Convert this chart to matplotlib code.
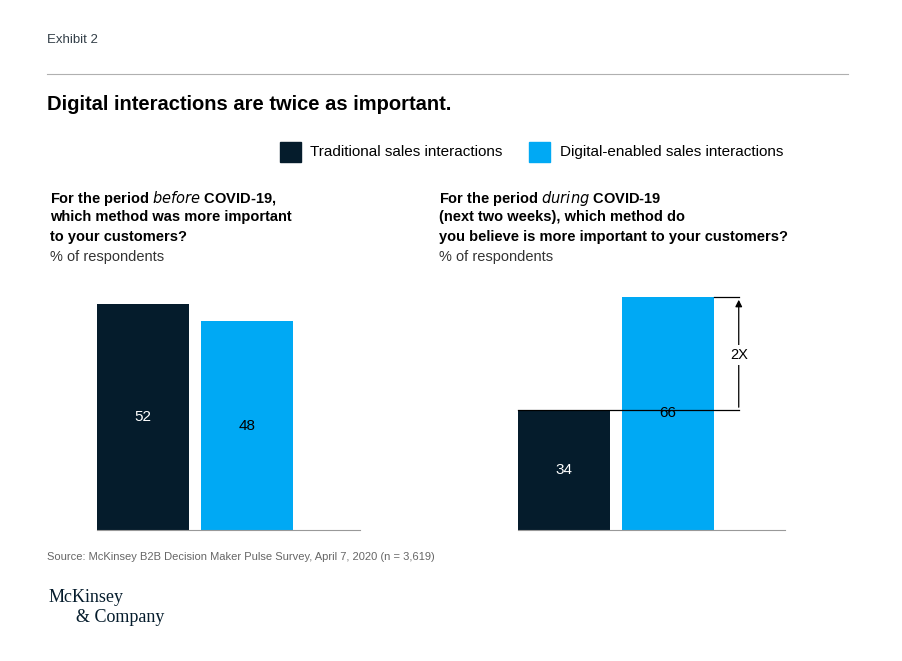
import matplotlib.pyplot as plt
from matplotlib.patches import Rectangle

plt.rcParams['font.family'] = ['Liberation Sans', 'DejaVu Sans']

methods = ['Traditional sales interactions', 'Digital-enabled sales interactions']
before_vals = [52, 48]
during_vals = [34, 66]
colors = ['#051c2c', '#00a9f4']

W, H = 903, 661
fig = plt.figure(figsize=(W / 100, H / 100), dpi=100)

def fx(x):
    return x / W

def fy(y):
    return 1 - y / H

def txt(x, y, s, **kw):
    fig.text(fx(x), fy(y), s, **kw)

# header
txt(47, 40, 'Exhibit 2', fontsize=9.5, color='#333f48', va='center')
fig.add_artist(plt.Line2D([fx(47), fx(848)], [fy(74), fy(74)], color='#b0b0b0', lw=0.8))
txt(47, 105, 'Digital interactions are twice as important.', fontsize=14.5,
    fontweight='bold', color='#000000', va='center')

# legend
for (x0, tx), lab, c in zip([(280, 310), (529, 560)], methods, colors):
    fig.add_artist(Rectangle((fx(x0), fy(162)), fx(21), 20 / H, color=c, transform=fig.transFigure))
    txt(tx, 152, lab, fontsize=11, va='center', color='#000000')

# question texts
for x, lines in [(50, ['For the period $\\it{before}$ COVID-19,', 'which method was more important',
                       'to your customers?']),
                 (439, ['For the period $\\it{during}$ COVID-19', '(next two weeks), which method do',
                        'you believe is more important to your customers?'])]:
    for i, l in enumerate(lines):
        txt(x, 198 + i * 19.5, l, fontsize=10.5, fontweight='bold', va='center')
    txt(x, 257, '% of respondents', fontsize=10.5, va='center', color='#333333')

def panel(x0, x1, vals, ymax):
    ax = fig.add_axes([fx(x0), fy(530), fx(x1 - x0), (530 - 297) / H])
    ax.bar([0, 1], vals, width=0.885, color=colors)
    ax.set_xlim(-0.4425, (x1 - x0) / 104 - 0.4425)
    ax.set_ylim(0, ymax)
    for s in ['top', 'right', 'left']:
        ax.spines[s].set_visible(False)
    ax.spines['bottom'].set_color('#999999')
    ax.set_xticks([])
    ax.set_yticks([])
    ax.patch.set_alpha(0)
    for i, v in enumerate(vals):
        ax.text(i, v / 2, str(v), ha='center', va='center', color='#ffffff' if i == 0 else '#000000',
                fontsize=11)
    return ax

panel(97, 360, before_vals, 53.6)
ax2 = panel(518, 785, during_vals, 66)

# 2X annotation
xa = 1.68
ax2.plot([-0.4425, xa], [during_vals[0]] * 2, color='#000000', lw=0.9, clip_on=False)
ax2.plot([1.4425, xa], [during_vals[1]] * 2, color='#000000', lw=0.9, clip_on=False)
ax2.annotate('', xy=(xa, during_vals[1]), xytext=(xa, during_vals[0]),
             arrowprops=dict(arrowstyle='-|>', color='#000000', lw=0.9, mutation_scale=10),
             annotation_clip=False)
ax2.text(xa, 49.5, '2X', ha='center', va='center', fontsize=10.5,
         bbox=dict(facecolor='white', edgecolor='none', pad=2), clip_on=False)

txt(47, 557, 'Source: McKinsey B2B Decision Maker Pulse Survey, April 7, 2020 (n = 3,619)',
    fontsize=8, color='#666666', va='center')
txt(49, 598, 'McKinsey', fontsize=13, family='Liberation Serif', va='center', color='#051c2c')
txt(76, 618, '& Company', fontsize=13, family='Liberation Serif', va='center', color='#051c2c')

fig.savefig('out.png', dpi=100)
